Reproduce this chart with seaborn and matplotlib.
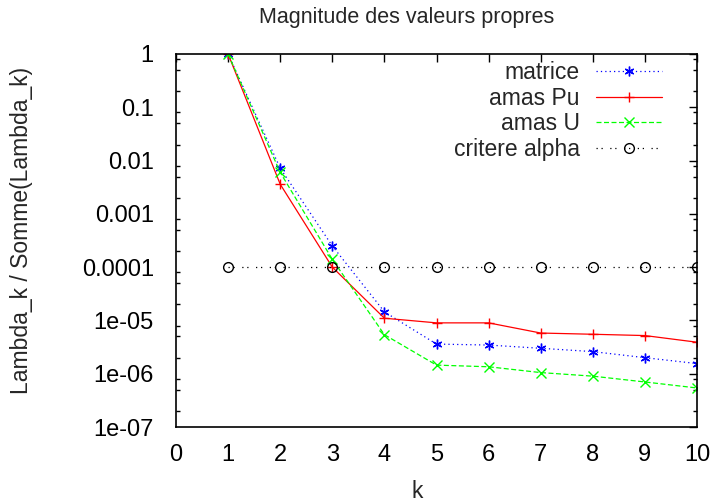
import matplotlib
matplotlib.use("Agg")
import matplotlib.pyplot as plt
from matplotlib import font_manager
import seaborn as sns
from matplotlib.ticker import LogLocator, FixedLocator, NullFormatter

# data
k = [1, 2, 3, 4, 5, 6, 7, 8, 9, 10]
matrice = [1.0, 7.2e-3, 2.5e-4, 1.45e-5, 3.6e-6, 3.45e-6, 3.0e-6, 2.6e-6, 2.0e-6, 1.55e-6]
amas_pu = [1.0, 3.6e-3, 1.0e-4, 1.1e-5, 9.0e-6, 9.0e-6, 5.8e-6, 5.5e-6, 5.2e-6, 3.9e-6]
amas_u = [1.0, 6.0e-3, 1.4e-4, 5.4e-6, 1.45e-6, 1.35e-6, 1.05e-6, 9.0e-7, 7.0e-7, 5.4e-7]
critere = [1e-4] * 10

ytick_vals = [1, 0.1, 0.01, 0.001, 0.0001, 1e-5, 1e-6, 1e-7]
ytick_labels = ["1", "0.1", "0.01", "0.001", "0.0001", "1e-05", "1e-06", "1e-07"]
xtick_vals = list(range(0, 11))

sns.set_style("white")

# pick the regular (not Narrow) Liberation Sans file explicitly
font_file = None
for f in font_manager.fontManager.ttflist:
    if f.name == "Liberation Sans" and f.style == "normal" and f.weight in (400, "normal") \
            and f.stretch in (500, "normal") and "Narrow" not in f.fname:
        font_file = f.fname
        break
plt.rcParams['font.family'] = ['Liberation Sans', 'DejaVu Sans']
fs = 16.5


def fp(size):
    if font_file:
        return font_manager.FontProperties(fname=font_file, size=size)
    return font_manager.FontProperties(family="Liberation Sans", size=size)


fig = plt.figure(figsize=(7.12, 5.04), dpi=100)
ax = fig.add_axes([176 / 712, 1 - 427 / 504, (697 - 176) / 712, (427 - 54) / 504])

series = [
    ("matrice", matrice, "#0000ff", (0, (1, 2.5)), (6, 2, 0)),
    ("amas Pu", amas_pu, "#ff0000", "-", "+"),
    ("amas U", amas_u, "#00ff00", (0, (4, 2)), "x"),
    ("critere alpha", critere, "#000000", (0, (1, 3, 1, 6)), "o"),
]
for name, vals, col, ls, mk in series:
    sns.lineplot(x=k, y=vals, ax=ax, color=col, linestyle=ls, marker=mk,
                 markersize=7, markeredgewidth=1.0, linewidth=0.9,
                 markerfacecolor="none", markeredgecolor=col, label=name)

ax.set_yscale("log")
ax.set_xlim(0, 10)
ax.set_ylim(1e-7, 1)
ax.xaxis.set_major_locator(FixedLocator(xtick_vals))
ax.set_xticklabels([str(v) for v in xtick_vals], fontproperties=fp(17))
ax.yaxis.set_major_locator(FixedLocator(ytick_vals))
ax.set_yticklabels(ytick_labels, fontproperties=fp(17))
ax.yaxis.set_minor_locator(LogLocator(base=10, subs=[2, 5, 8], numticks=20))
ax.yaxis.set_minor_formatter(NullFormatter())
ax.tick_params(axis="both", which="major", direction="in", length=6, width=1,
               top=True, right=True, color="black", labelcolor="black")
ax.tick_params(axis="y", which="major", pad=16)
ax.tick_params(axis="x", which="major", pad=12)
ax.tick_params(axis="y", which="minor", direction="in", length=3, width=1,
               left=True, right=True, color="black")
for sp in ax.spines.values():
    sp.set_color("black")
    sp.set_linewidth(1.2)
ax.set_xlabel("")
ax.set_ylabel("")

leg = ax.legend(loc="upper right", frameon=False, markerfirst=False, prop=fp(fs),
                handlelength=2.9, borderaxespad=0, borderpad=0, labelspacing=0.12,
                handletextpad=0.7,
                bbox_to_anchor=((662 - 176) / 521, 1 - (61 - 54) / 373))
leg._legend_box.align = "right"

fig.text(407 / 712, 1 - 18 / 504, "Magnitude des valeurs propres", ha="center",
         va="center", fontproperties=fp(15.5))
fig.text(417 / 712, 1 - 491 / 504, "k", ha="center", va="center", fontproperties=fp(fs))
fig.text(22 / 712, 1 - 230 / 504, "Lambda_k / Somme(Lambda_k)", ha="center",
         va="center", rotation=90, fontproperties=fp(fs))

fig.savefig("out.png", dpi=100)
